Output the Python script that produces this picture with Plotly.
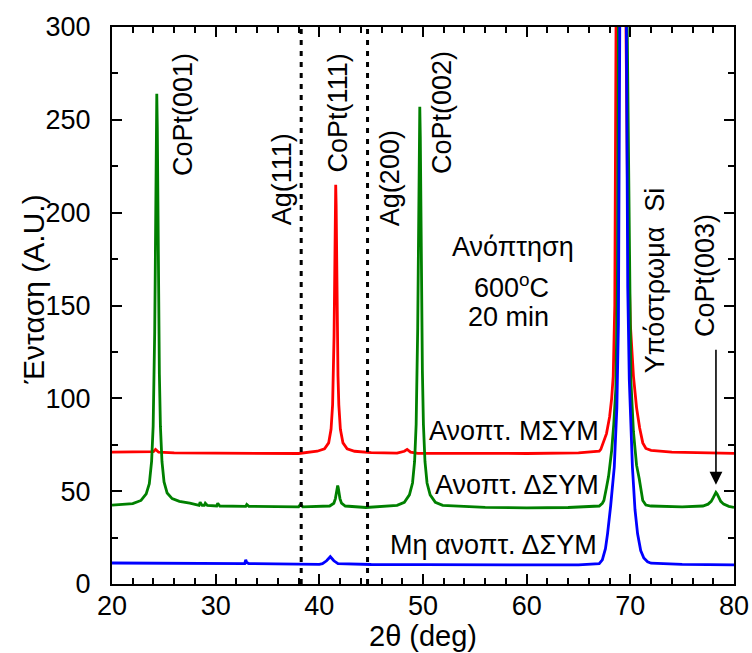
import plotly.graph_objects as go

# ---------------- data ----------------
# Ανοπτ. ΜΣΥΜ (red)
red_x = [20, 23.5, 24.0, 24.2, 24.5, 26, 30, 34, 38, 39.8, 40.5, 40.9, 41.13, 41.28, 41.36, 41.42,
         41.46, 41.5, 41.54, 41.58, 41.62, 41.66, 41.7, 41.74, 41.8, 41.88, 42.03, 42.28, 42.68,
         43.4, 45, 47.5, 48.2, 48.47, 48.8, 49.5, 55, 60, 65, 66.5,
         67.0, 67.15, 67.4, 67.7, 68.0, 68.2, 68.35, 68.5, 68.62, 68.8, 69.1, 69.4, 69.58, 69.75,
         70.0, 70.3, 70.6, 70.9, 71.2, 71.5, 72, 74, 76, 78, 80]
red_y = [71, 71, 71.3, 72.5, 71, 70.6, 70.5, 70.4, 70.3, 71.5, 72.8, 76, 83.3, 96.5, 112, 133.5,
         154, 180, 204.5, 215, 204.5, 180, 154, 133.5, 112, 96.5, 83.3, 76, 72.8,
         71.5, 70.8, 70.5, 71.5, 72.5, 71, 70.4, 70.3, 70.3, 70.6, 71,
         71.5, 72.5, 76, 81, 90, 100, 112, 150, 300, 600, 1500, 600, 300, 200,
         140, 112, 95, 84, 76, 73, 72, 71, 70.8, 70.5, 70.4]

# Ανοπτ. ΔΣΥΜ (green)
green_x = [20, 21, 22, 22.8, 23.3, 23.6, 23.82, 23.97, 24.07, 24.12, 24.17, 24.22, 24.27, 24.32,
           24.37, 24.42, 24.47, 24.52, 24.57, 24.67, 24.82, 25.02, 25.32, 25.8, 26.5, 27.5,
           28.2, 28.4, 28.5, 28.7, 28.9, 29.0, 29.2, 30.1, 30.2, 30.4, 32.9, 33.0, 33.2,
           36, 38.0, 38.2, 38.4, 41.0, 41.4, 41.55, 41.65, 41.72, 41.77, 41.82, 41.89, 41.99,
           42.14, 42.5, 44.5, 47.5, 48.2, 48.69, 48.99, 49.19, 49.34, 49.44, 49.49, 49.54,
           49.59, 49.64, 49.69, 49.74, 49.79, 49.84, 49.89, 49.94, 50.04, 50.19, 50.39, 50.69,
           51.19, 51.9, 56, 60, 64, 66,
           67.0, 67.3, 67.45, 67.7, 67.9, 68.2, 68.4, 68.6, 68.75, 68.85, 69.0, 69.25, 69.5,
           69.7, 69.85, 70.05, 70.3, 70.6, 70.85, 71.2, 71.5, 72, 75,
           77.0, 77.5, 77.8, 78.0, 78.15, 78.26, 78.37, 78.52, 78.72, 79.0, 79.5, 80]
green_y = [42.5, 42.7, 43.3, 45, 48.5, 54, 66, 85, 113, 136, 167, 207, 246, 264,
           246, 207, 167, 136, 113, 85, 66, 55, 49, 46, 44.5, 43.5,
           42.6, 42.3, 44, 42.3, 42.3, 43.5, 42.3, 42, 43.5, 42, 41.8, 42.8, 41.8,
           41.5, 41.5, 43, 41.5, 42, 43.5, 46, 49, 52, 53, 52, 49, 46,
           43.5, 42, 41.2, 42.4, 44, 48, 54.4, 66, 86, 115, 138, 168.5,
           206, 241, 257, 241, 206, 168.5, 138, 115, 86, 66, 54.4, 48,
           44, 42.4, 41.3, 41, 41.2, 41.5,
           42, 43.5, 45, 52, 58, 72, 86, 105, 160, 300, 600, 1200, 600,
           300, 200, 110, 82, 64, 57, 45, 42.5, 42, 41.5,
           42, 43, 44.5, 46.5, 48.5, 49.3, 48.5, 46.5, 44.5, 43, 41.8, 41.3]

# Μη ανοπτ. ΔΣΥΜ (blue)
blue_x = [20, 25, 30, 32.8, 32.9, 33.0, 33.2, 36, 40.0, 40.3, 40.7, 41.06, 41.4, 41.8, 45, 50,
          55, 60, 65, 67.0, 67.3, 67.6, 67.8, 68.1, 68.45, 68.7, 68.85, 68.98, 69.1, 69.3,
          69.5, 69.62, 69.75, 69.9, 70.2, 70.45, 70.7, 71.0, 71.3, 71.66, 72, 75, 80]
blue_y = [11.3, 11.1, 11, 11, 13, 11.5, 11, 10.8, 10.6, 11, 12.5, 14.7, 12.5, 11, 10.5, 10.4,
          10.3, 10.2, 10.3, 11, 13, 19, 27, 42, 63, 95, 140, 300, 600, 1200,
          600, 300, 160, 110, 63, 40, 27, 18, 14, 12, 11.2, 10.6, 10.3]

ag_lines = [38.25, 44.65]
x_range = [20, 80]
y_range = [0, 300]

FONT = "Liberation Sans, Arial, Helvetica, sans-serif"

fig = go.Figure()
fig.add_trace(go.Scatter(x=red_x, y=red_y, mode="lines",
                         line=dict(color="#ff0000", width=2.8), showlegend=False))
fig.add_trace(go.Scatter(x=green_x, y=green_y, mode="lines",
                         line=dict(color="#008000", width=2.8), showlegend=False))
fig.add_trace(go.Scatter(x=blue_x, y=blue_y, mode="lines",
                         line=dict(color="#0000ff", width=2.8), showlegend=False))

for xv in ag_lines:
    fig.add_shape(type="line", x0=xv, x1=xv, y0=0, y1=1, xref="x", yref="paper",
                  line=dict(color="black", width=3, dash="5px,6px"))

ann_font = dict(family=FONT, size=27, color="black")
rot = [
    ("CoPt(001)", 26.8, 252.8),
    ("Ag(111)", 36.4, 218),
    ("CoPt(111)", 41.8, 254),
    ("Ag(200)", 46.8, 218.5),
    ("CoPt(002)", 51.9, 254),
    ("Υπόστρωμα\u00a0\u00a0Si", 72.4, 163.7),
    ("CoPt(003)", 77.2, 166.4),
]
for t, xv, yv in rot:
    fig.add_annotation(x=xv, y=yv, text=t, textangle=-90, showarrow=False,
                       xanchor="center", yanchor="middle", font=ann_font)

horiz = [
    ("Ανόπτηση", 58.7, 181.5, "center"),
    ("600<sup>o</sup>C", 58.5, 160.5, "center"),
    ("20 min", 58.2, 143.8, "center"),
    ("Ανοπτ. ΜΣΥΜ", 67.2, 82.4, "right"),
    ("Ανοπτ. ΔΣΥΜ", 67.2, 53.3, "right"),
    ("Μη ανοπτ. ΔΣΥΜ", 67.0, 21, "right"),
]
for t, xv, yv, anc in horiz:
    fig.add_annotation(x=xv, y=yv, text=t, showarrow=False,
                       xanchor=anc, yanchor="middle", font=ann_font)

# arrow to CoPt(003)
fig.add_annotation(x=78.26, y=53.5, ax=78.26, ay=127, axref="x", ayref="y",
                   xref="x", yref="y", text="", showarrow=True,
                   arrowhead=2, arrowsize=1.6, arrowwidth=1.6, arrowcolor="black")

# axis titles
fig.add_annotation(x=0.5, y=-0.0935, xref="paper", yref="paper", text="2θ (deg)",
                   showarrow=False, xanchor="center", yanchor="middle",
                   font=dict(family=FONT, size=29, color="black"))
fig.add_annotation(x=-0.126, y=0.528, xref="paper", yref="paper", text="Ένταση (A.U.)",
                   textangle=-90, showarrow=False, xanchor="center", yanchor="middle",
                   font=dict(family=FONT, size=30, color="black"))

axis_common = dict(showline=True, linecolor="black", linewidth=2, mirror="ticks",
                   ticks="inside", tickcolor="black", tickwidth=2, ticklen=10,
                   showgrid=False, zeroline=False, automargin=False,
                   tickfont=dict(family=FONT, size=27, color="black"))

fig.update_xaxes(range=x_range, dtick=10, tick0=0,
                 minor=dict(dtick=2, ticks="inside", ticklen=6, tickwidth=2,
                            tickcolor="black", showgrid=False),
                 ticklabelstandoff=-3, **axis_common)
fig.update_yaxes(range=y_range, dtick=50, tick0=0,
                 minor=dict(dtick=25, ticks="inside", ticklen=6, tickwidth=2,
                            tickcolor="black", showgrid=False),
                 ticklabelstandoff=14, **axis_common)

fig.update_layout(width=752, height=653, paper_bgcolor="white", plot_bgcolor="white",
                  margin=dict(l=112, r=18, t=27, b=69), showlegend=False,
                  font=dict(family=FONT, color="black"))

fig.write_html("out.html")
